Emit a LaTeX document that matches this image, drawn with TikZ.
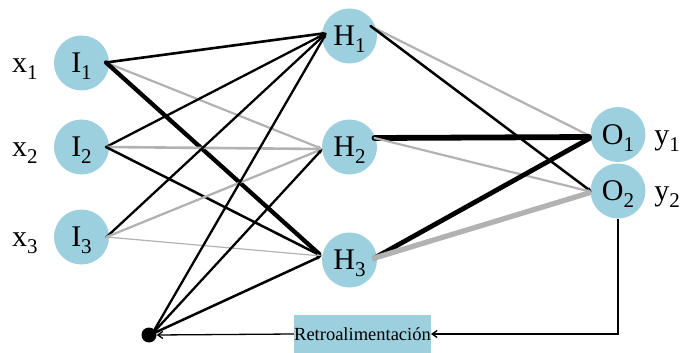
\documentclass[tikz,border=0pt]{standalone}
\usepackage{fontspec}
\setmainfont{Liberation Serif}
\usetikzlibrary{arrows.meta,calc}

\definecolor{neuronblue}{RGB}{157,208,222}
\definecolor{wgray}{RGB}{178,178,178}

% letter with a lowered subscript digit
\newcommand{\nlab}[2]{#1\raisebox{-7pt}{\fontsize{21}{21}\selectfont #2}}

\tikzset{
  neuron/.style={circle, fill=neuronblue, minimum size=55pt, inner sep=0pt,
    text height=22pt, text depth=3pt, font=\fontsize{30}{30}\selectfont},
  sidelabel/.style={inner sep=0pt, text height=22pt, text depth=3pt,
    font=\fontsize{30}{30}\selectfont},
  wire/.style={-{Stealth[length=5pt 0, width=4pt 0]}, line cap=round},
  poswire/.style={wire, draw=black},
  negwire/.style={wire, draw=wgray},
  feedback/.style={line width=1.3pt, -{Straight Barb[length=5pt, width=7pt]}},
}

\begin{document}
\begin{tikzpicture}[x=1pt, y=-1pt]
\useasboundingbox (0,0) rectangle (681,353);

% neurons
\node[neuron] (I1) at (81.5,63) {\nlab{I}{1}};
\node[neuron] (I2) at (81.5,147) {\nlab{I}{2}};
\node[neuron] (I3) at (81.5,237) {\nlab{I}{3}};
\node[neuron] (H1) at (349.5,36) {\nlab{H}{1}};
\node[neuron] (H2) at (349.5,147) {\nlab{H}{2}};
\node[neuron] (H3) at (349.5,260) {\nlab{H}{3}};
\node[neuron] (O1) at (618,134.5) {\nlab{O}{1}};
\node[neuron] (O2) at (618,191) {\nlab{O}{2}};

% bias point and feedback box
\node[circle, fill=black, minimum size=15pt, inner sep=0pt] (B) at (149,335) {};
\node[fill=neuronblue, minimum width=133pt, minimum height=38pt, inner sep=0pt,
  font=\fontsize{18.5}{18.5}\selectfont] (retro) at (362.5,334) {Retroalimentación};

% input and output names
\node[sidelabel] (x1) at (25,63) {\nlab{x}{1}};
\node[sidelabel] (x2) at (25,147) {\nlab{x}{2}};
\node[sidelabel] (x3) at (25,237) {\nlab{x}{3}};
\node[sidelabel] (y1) at (667,134.5) {\nlab{y}{1}};
\node[sidelabel] (y2) at (667,191) {\nlab{y}{2}};

% connection ports on the neurons
\coordinate (I1o) at ($(I1.center)+(24.5,-0.5)$);
\coordinate (I2o) at ($(I2.center)+(24.5,0)$);
\coordinate (I3o) at ($(I3.center)+(25,0)$);
\coordinate (H1i) at ($(H1.center)+(-23,-3)$);
\coordinate (H2i) at ($(H2.center)+(-27,2)$);
\coordinate (H3i) at ($(H3.center)+(-28,-4)$);
\coordinate (H1o) at ($(H1.center)+(21,-10)$);
\coordinate (H2o) at ($(H2.center)+(25,-9)$);
\coordinate (H3o) at ($(H3.center)+(25,-2)$);
\coordinate (O1i) at ($(O1.center)+(-26,2.5)$);
\coordinate (O2i) at ($(O2.center)+(-26,1)$);
\coordinate (Bo) at ($(B.center)+(3,-1)$);

% input -> hidden
\draw[poswire, line width=2.6pt] (I1o) -- (H1i);
\draw[negwire, line width=2.2pt] (I1o) -- (H2i);
\draw[poswire, line width=4.3pt] (I1o) -- (H3i);
\draw[poswire, line width=2.3pt] (I2o) -- (H1i);
\draw[negwire, line width=2.6pt] (I2o) -- (H2i);
\draw[poswire, line width=2.5pt] (I2o) -- (H3i);
\draw[poswire, line width=2.3pt] (I3o) -- (H1i);
\draw[negwire, line width=2.3pt] (I3o) -- (H2i);
\draw[negwire, line width=1.2pt] (I3o) -- (H3i);
% bias -> hidden
\draw[poswire, line width=2.3pt] (Bo) -- (H1i);
\draw[poswire, line width=2.3pt] (Bo) -- (H2i);
\draw[poswire, line width=2.5pt] (Bo) -- (H3i);
% hidden -> output
\draw[negwire, line width=2.2pt] (H1o) -- (O1i);
\draw[poswire, line width=2.5pt] (H1o) -- (O2i);
\draw[poswire, line width=5.8pt] (H2o) -- (O1i);
\draw[negwire, line width=2.2pt] (H2o) -- (O2i);
\draw[poswire, line width=4.8pt] (H3o) -- (O1i);
\draw[negwire, line width=5.3pt] (H3o) -- (O2i);

% feedback loop
\draw[feedback] (O2.south) |- (retro.east);
\draw[feedback] (retro.west) -- (B.east);
\end{tikzpicture}
\end{document}
